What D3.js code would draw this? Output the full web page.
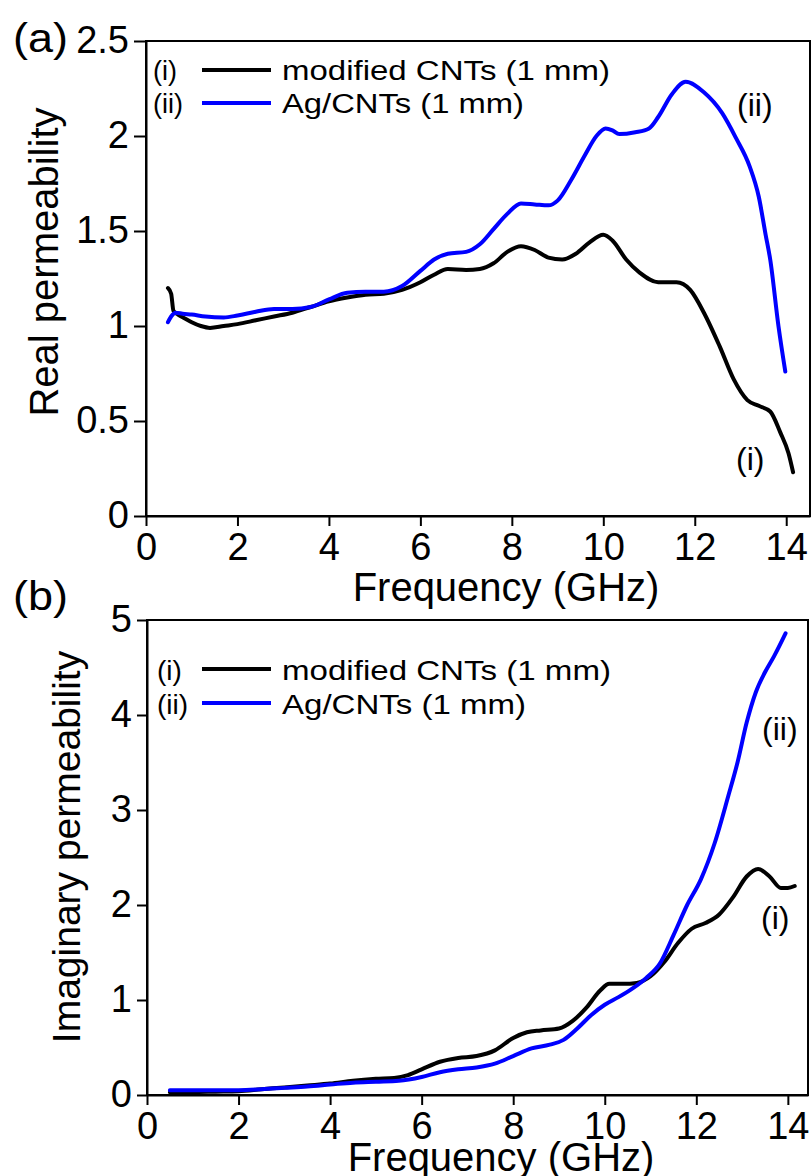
<!DOCTYPE html>
<html>
<head>
<meta charset="utf-8">
<script src="https://cdn.jsdelivr.net/npm/d3@7"></script>
<style>
  html, body { margin: 0; padding: 0; background: #fff; }
  svg { display: block; }
  text { font-family: "Liberation Sans", Arial, sans-serif; fill: #000; }
</style>
</head>
<body>
<svg id="chart" width="812" height="1176"></svg>
<script>
// ---------- DATA ----------
// (a) Real permeability
const freqRealI = [0.48, 0.55, 0.6, 0.7, 0.85, 1.0, 1.2, 1.4, 1.7, 2.0, 2.4, 2.8, 3.2, 3.6, 4.0, 4.4, 4.8, 5.2, 5.6, 6.0, 6.3, 6.6, 7.0, 7.3, 7.6, 7.9, 8.2, 8.5, 8.8, 9.1, 9.4, 9.7, 10.0, 10.2, 10.5, 10.8, 11.2, 11.6, 11.9, 12.2, 12.55, 12.85, 13.15, 13.4, 13.65, 13.87, 14.05, 14.15];
const realI     = [1.20, 1.17, 1.08, 1.06, 1.04, 1.02, 1.00, 0.99, 1.00, 1.01, 1.03, 1.05, 1.07, 1.10, 1.13, 1.15, 1.165, 1.17, 1.19, 1.23, 1.27, 1.30, 1.295, 1.30, 1.33, 1.39, 1.42, 1.40, 1.36, 1.35, 1.38, 1.44, 1.48, 1.45, 1.35, 1.28, 1.23, 1.23, 1.19, 1.07, 0.89, 0.72, 0.61, 0.58, 0.55, 0.44, 0.33, 0.23];
const freqRealII = [0.48, 0.55, 0.65, 0.8, 1.0, 1.3, 1.7, 2.0, 2.4, 2.8, 3.2, 3.6, 4.0, 4.4, 4.8, 5.2, 5.6, 6.0, 6.3, 6.6, 7.0, 7.3, 7.6, 7.9, 8.2, 8.5, 8.8, 9.0, 9.3, 9.6, 9.85, 10.05, 10.2, 10.35, 10.7, 11.0, 11.2, 11.5, 11.8, 12.2, 12.6, 12.9, 13.2, 13.4, 13.55, 13.65, 13.83, 13.98];
const realII     = [1.02, 1.05, 1.07, 1.065, 1.06, 1.05, 1.045, 1.055, 1.075, 1.09, 1.09, 1.10, 1.14, 1.175, 1.18, 1.18, 1.21, 1.29, 1.35, 1.38, 1.39, 1.43, 1.51, 1.59, 1.645, 1.64, 1.635, 1.66, 1.77, 1.90, 2.00, 2.04, 2.03, 2.01, 2.02, 2.04, 2.10, 2.22, 2.285, 2.23, 2.12, 1.99, 1.84, 1.68, 1.48, 1.35, 1.00, 0.76];

// (b) Imaginary permeability
const freqImagI = [0.5, 1.0, 1.5, 2.0, 2.5, 3.0, 3.5, 4.0, 4.5, 5.0, 5.4, 5.7, 6.0, 6.4, 6.8, 7.2, 7.6, 8.0, 8.3, 8.6, 9.0, 9.3, 9.6, 9.9, 10.1, 10.4, 10.7, 11.0, 11.3, 11.6, 11.9, 12.2, 12.5, 12.8, 13.1, 13.35, 13.6, 13.85, 14.0, 14.15];
const imagI     = [0.03, 0.03, 0.035, 0.04, 0.06, 0.08, 0.10, 0.12, 0.15, 0.17, 0.18, 0.21, 0.27, 0.35, 0.39, 0.41, 0.47, 0.60, 0.66, 0.68, 0.70, 0.78, 0.92, 1.10, 1.17, 1.17, 1.18, 1.25, 1.40, 1.60, 1.75, 1.81, 1.90, 2.08, 2.30, 2.38, 2.30, 2.18, 2.18, 2.20];
const freqImagII = [0.5, 1.0, 1.5, 2.0, 2.5, 3.0, 3.5, 4.0, 4.5, 5.0, 5.5, 6.0, 6.4, 6.8, 7.2, 7.6, 8.0, 8.4, 8.8, 9.1, 9.4, 9.7, 10.0, 10.3, 10.6, 10.9, 11.2, 11.5, 11.8, 12.1, 12.4, 12.7, 12.9, 13.1, 13.3, 13.5, 13.7, 13.95];
const imagII     = [0.05, 0.05, 0.05, 0.05, 0.06, 0.075, 0.09, 0.11, 0.13, 0.14, 0.15, 0.19, 0.24, 0.27, 0.29, 0.33, 0.41, 0.49, 0.53, 0.58, 0.70, 0.84, 0.95, 1.03, 1.12, 1.23, 1.38, 1.68, 2.00, 2.27, 2.65, 3.15, 3.50, 3.92, 4.24, 4.45, 4.62, 4.86];

const xTicks = [0, 2, 4, 6, 8, 10, 12, 14];
const yTicksA = [0, 0.5, 1, 1.5, 2, 2.5];
const yTicksB = [0, 1, 2, 3, 4, 5];
const legendTags = ["(i)", "(ii)"];
const legendNames = ["modified CNTs (1 mm)", "Ag/CNTs (1 mm)"];
const seriesColors = ["#000000", "#0000ff"];

// ---------- DRAW ----------
const svg = d3.select("#chart");

function panel(cfg) {
  const x = d3.scaleLinear().domain([0, cfg.xMax]).range([cfg.left, cfg.right]);
  const y = d3.scaleLinear().domain([0, cfg.yMax]).range([cfg.bottom, cfg.top]);
  const g = svg.append("g");

  // frame
  g.append("rect")
    .attr("x", cfg.left).attr("y", cfg.top)
    .attr("width", cfg.right - cfg.left).attr("height", cfg.bottom - cfg.top)
    .attr("fill", "none").attr("stroke", "#000").attr("stroke-width", 2);

  // axes
  const xAxis = d3.axisBottom(x).tickValues(xTicks).tickFormat(d3.format("d"))
    .tickSize(10).tickSizeOuter(0).tickPadding(7);
  const gx = g.append("g").attr("transform", `translate(0,${cfg.bottom})`).call(xAxis);
  const yAxis = d3.axisLeft(y).tickValues(cfg.yTicks).tickFormat(cfg.yFmt)
    .tickSize(cfg.yTickSize).tickSizeOuter(0).tickPadding(cfg.yPad);
  const gy = g.append("g").attr("transform", `translate(${cfg.left},0)`).call(yAxis);
  [gx, gy].forEach(a => {
    a.selectAll("path").attr("stroke", "#000").attr("stroke-width", 2);
    a.selectAll("line").attr("stroke", "#000").attr("stroke-width", 2);
    a.selectAll("text").style("font-size", "38px").attr("fill", "#000")
      .style("font-family", '"Liberation Sans", Arial, sans-serif');
  });
  gy.selectAll("text").attr("dy", "0.3em");

  // lines
  const line = d3.line().x(d => x(d[0])).y(d => y(d[1])).curve(d3.curveMonotoneX);
  cfg.series.forEach((s, i) => {
    g.append("path")
      .datum(d3.zip(s.f, s.v))
      .attr("d", line)
      .attr("fill", "none")
      .attr("stroke", seriesColors[i])
      .attr("stroke-width", 4)
      .attr("stroke-linejoin", "round")
      .attr("stroke-linecap", "round");
  });

  // legend
  legendTags.forEach((t, i) => {
    const by = cfg.legY[i];
    g.append("text").attr("x", 153 + (cfg.legShift || 0)).attr("y", by)
      .style("font-size", cfg.legFont + "px").text(t);
    g.append("line")
      .attr("x1", 202).attr("x2", 271)
      .attr("y1", by - cfg.legLineOff).attr("y2", by - cfg.legLineOff)
      .attr("stroke", seriesColors[i]).attr("stroke-width", 4);
    g.append("text").attr("x", 282).attr("y", by)
      .style("font-size", cfg.legFont + "px")
      .attr("textLength", cfg.legLen[i]).attr("lengthAdjust", "spacingAndGlyphs")
      .text(legendNames[i]);
  });

  // curve annotations
  cfg.notes.forEach(n => {
    g.append("text").attr("x", n.x).attr("y", n.y)
      .style("font-size", "32px").text(n.t);
  });

  // axis titles
  g.append("text").attr("x", cfg.xTitleX).attr("y", cfg.xTitleY)
    .attr("text-anchor", "middle").style("font-size", "40px").text("Frequency (GHz)");
  g.append("text")
    .attr("transform", `translate(${cfg.yTitleX},${cfg.yTitleY}) rotate(-90)`)
    .attr("text-anchor", "middle").style("font-size", cfg.yTitleFont + "px").text(cfg.yTitle);

  // panel tag
  g.append("text").attr("x", 13).attr("y", cfg.tagY)
    .style("font-size", "40px")
    .attr("textLength", 55).attr("lengthAdjust", "spacingAndGlyphs")
    .text(cfg.tag);
}

panel({
  left: 146, right: 810, top: 41, bottom: 516, xMax: 14.52, yMax: 2.5,
  yTicks: yTicksA, yFmt: d => d === 0 ? "0" : String(d), yTickSize: 12, yPad: 5,
  series: [{ f: freqRealI, v: realI }, { f: freqRealII, v: realII }],
  legY: [80, 113], legFont: 27, legLineOff: 10, legLen: [328, 242],
  notes: [{ x: 737, y: 116, t: "(ii)" }, { x: 736, y: 470, t: "(i)" }],
  xTitleX: 506, xTitleY: 601,
  yTitleX: 58, yTitleY: 262, yTitle: "Real permeability", yTitleFont: 40,
  tag: "(a)", tagY: 52
});

panel({
  left: 147, right: 808, top: 620, bottom: 1095, xMax: 14.44, yMax: 5,
  yTicks: yTicksB, yFmt: d3.format("d"), yTickSize: 10, yPad: 5,
  series: [{ f: freqImagI, v: imagI }, { f: freqImagII, v: imagII }],
  legY: [680, 714], legFont: 28, legLineOff: 11, legLen: [329, 244], legShift: 4,
  notes: [{ x: 762, y: 740, t: "(ii)" }, { x: 761, y: 929, t: "(i)" }],
  xTitleX: 501, xTitleY: 1171,
  yTitleX: 80, yTitleY: 847, yTitle: "Imaginary permeability", yTitleFont: 39,
  tag: "(b)", tagY: 610
});
</script>
</body>
</html>
